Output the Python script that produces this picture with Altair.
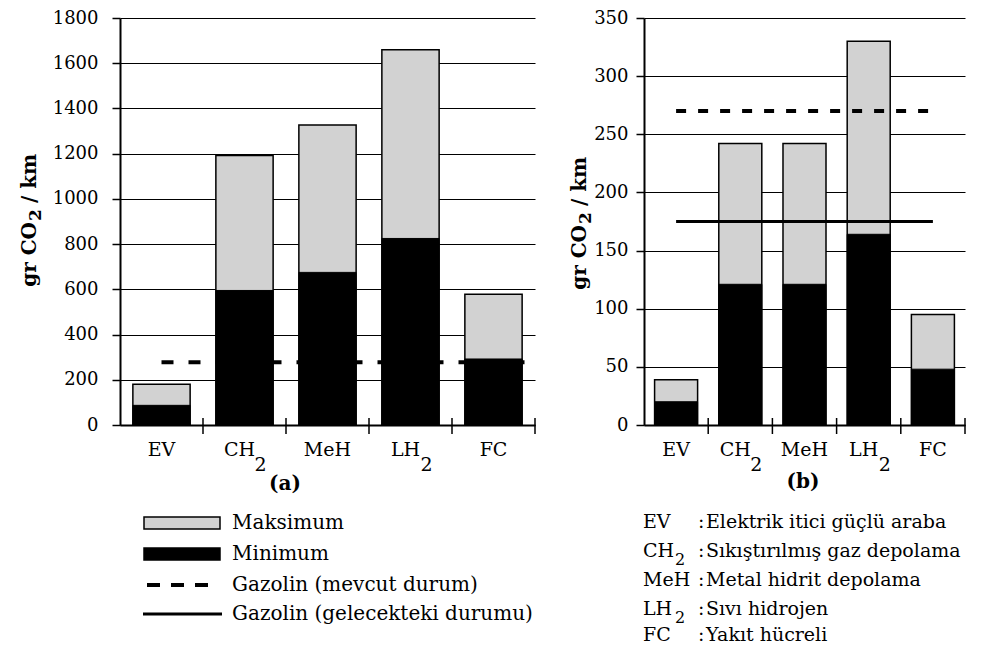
import altair as alt
import pandas as pd

# ---------------- data ----------------
categories = ["EV", "CH2", "MeH", "LH2", "FC"]
label_base = ["EV", "CH", "MeH", "LH", "FC"]
label_sub = ["", "2", "", "2", ""]

left_max = [180, 1192, 1327, 1660, 578]
left_min = [87, 595, 675, 825, 292]
left_gas_now = 278
left_ticks = [0, 200, 400, 600, 800, 1000, 1200, 1400, 1600, 1800]

right_max = [39, 242, 242, 330, 95]
right_min = [20, 121, 121, 164, 48]
right_gas_now = 270
right_gas_future = 175
right_ticks = [0, 50, 100, 150, 200, 250, 300, 350]

legend_left = ["Maksimum", "Minimum", "Gazolin (mevcut durum)",
               "Gazolin (gelecekteki durumu)"]
legend_right_abbr = ["EV", "CH", "MeH", "LH", "FC"]
legend_right_sub = ["", "2", "", "2", ""]
legend_right_desc = ["Elektrik itici güçlü araba", "Sıkıştırılmış gaz depolama",
                     "Metal hidrit depolama", "Sıvı hidrojen", "Yakıt hücreli"]
panel_labels = ["(a)", "(b)"]
y_title = ["gr CO", "2", "/ km"]

SERIF = "DejaVu Serif"
STIPPLE = "#d2d2d2"
ONE = pd.DataFrame({"a": [0]})


def txt(s, x, y, size=20, align="left", weight="normal", angle=0, dx=0, dy=0):
    return alt.Chart(ONE).mark_text(
        text=s, font=SERIF, fontSize=size, align=align, baseline="middle",
        fontWeight=weight, angle=angle, dx=dx, dy=dy, color="black"
    ).encode(x=alt.value(x), y=alt.value(y))


def rect(x1, x2, y1, y2, fill, sw=1.5):
    return alt.Chart(ONE).mark_rect(fill=fill, stroke="black", strokeWidth=sw).encode(
        x=alt.value(x1), x2=alt.value(x2), y=alt.value(y1), y2=alt.value(y2))


def hline(x1, x2, y, width, dash=None):
    kw = dict(color="black", strokeWidth=width)
    if dash:
        kw["strokeDash"] = dash
    return alt.Chart(ONE).mark_rule(**kw).encode(
        x=alt.value(x1), x2=alt.value(x2), y=alt.value(y))


def make_panel(vmax, vmin, ymax, yticks, W, H, bar_frac, label_pad, lines,
               caption, cap_x, cap_y, title_x, title_y, sub_dx, extra):
    df = pd.DataFrame({"cat": categories, "base": label_base, "sub": label_sub,
                       "vmax": vmax, "vmin": vmin})
    xscale = alt.Scale(domain=categories, paddingInner=0, paddingOuter=0)
    xaxis = alt.Axis(title=None, labels=False, ticks=False, grid=False,
                     domainColor="black", domainWidth=2)
    yscale = alt.Scale(domain=[0, ymax], nice=False)
    yaxis = alt.Axis(title=None, values=yticks, format="d", grid=True,
                     gridColor="black", gridWidth=1, gridOpacity=1,
                     tickColor="black", tickSize=8, tickWidth=1.5,
                     domainColor="black", domainWidth=2,
                     labelFont=SERIF, labelFontSize=18, labelColor="black",
                     labelPadding=label_pad)

    def X(**kw):
        return alt.X("cat:N", scale=xscale, axis=xaxis, **kw)

    def Y(f):
        return alt.Y(f, scale=yscale, axis=yaxis)

    base = alt.Chart(df)
    layers = [
        base.mark_bar(fill=STIPPLE, stroke="black", strokeWidth=1.5,
                      width=alt.RelativeBandSize(bar_frac)).encode(x=X(), y=Y("vmax:Q")),
        base.mark_bar(fill="black", stroke="black", strokeWidth=1,
                      width=alt.RelativeBandSize(bar_frac)).encode(x=X(), y=Y("vmin:Q")),
    ]
    for value, start, end, width, dash in lines:
        ldf = pd.DataFrame({"cat": [start], "cat_end": [end], "value": [value]})
        kw = dict(color="black", strokeWidth=width)
        if dash:
            kw["strokeDash"] = dash
        enc = dict(x=X(), y=Y("value:Q"))
        if end is None:
            enc["x2"] = alt.value(W)
        else:
            enc["x2"] = alt.X2("cat_end:N")
        layers.append(alt.Chart(ldf).mark_rule(**kw).encode(**enc))
    # x ticks between bands
    layers.append(base.mark_rule(color="black", strokeWidth=1.5).encode(
        x=X(bandPosition=1), y=alt.value(H - 7), y2=alt.value(H + 9)))
    # x labels (with subscripts)
    layers.append(base.transform_filter("datum.sub == ''").mark_text(
        font=SERIF, fontSize=19, baseline="middle", align="center", color="black"
    ).encode(x=X(), y=alt.value(H + 25), text="base:N"))
    layers.append(base.transform_filter("datum.sub != ''").mark_text(
        font=SERIF, fontSize=19, baseline="middle", align="center", dx=-5, color="black"
    ).encode(x=X(), y=alt.value(H + 25), text="base:N"))
    layers.append(base.transform_filter("datum.sub != ''").mark_text(
        font=SERIF, fontSize=19, baseline="middle", align="left", dx=sub_dx, color="black"
    ).encode(x=X(), y=alt.value(H + 40), text="sub:N"))
    # caption
    layers.append(txt(caption, cap_x, cap_y, size=20, align="center", weight="bold"))
    # y title
    layers.append(txt(y_title[0], title_x, title_y, size=20, align="right",
                      weight="bold", angle=270))
    layers.append(txt(y_title[1], title_x, title_y, size=17, align="left",
                      weight="bold", angle=270, dx=1, dy=6))
    layers.append(txt(y_title[2], title_x, title_y, size=20, align="left",
                      weight="bold", angle=270, dx=19))
    layers += extra
    return alt.layer(*layers).properties(width=W, height=H)


LW, RW, H = 415, 321, 407

# left legend (relative to left plot origin)
left_rows = [505, 536, 567, 596]
left_extra = [
    rect(24, 100, left_rows[0] - 6, left_rows[0] + 6, STIPPLE),
    rect(24, 100, left_rows[1] - 6, left_rows[1] + 6, "black"),
    hline(27, 89, left_rows[2], 4, [13, 11]),
    hline(23, 102, left_rows[3], 3),
] + [txt(s, 112, y) for s, y in zip(legend_left, left_rows)]

# right legend (relative to right plot origin)
right_rows = [504, 533, 562, 591, 617]
right_extra = []
for abbr, sub, desc, y in zip(legend_right_abbr, legend_right_sub,
                              legend_right_desc, right_rows):
    right_extra.append(txt(abbr, -1, y, size=19))
    if sub:
        right_extra.append(txt(sub, 31, y + 9, size=16))
    right_extra.append(txt(":", 54, y, size=19))
    right_extra.append(txt(desc, 62, y, size=19))

left = make_panel(left_max, left_min, 1800, left_ticks, LW, H, 0.69, 14,
                  [(left_gas_now, "EV", None, 4, [12, 15])],
                  panel_labels[0], 165, 466, -90, 204, 10, left_extra)
right = make_panel(right_max, right_min, 350, right_ticks, RW, H, 0.67, 8,
                   [(right_gas_now, "EV", "FC", 4, [10, 12]),
                    (right_gas_future, "EV", "FC", 3, None)],
                   panel_labels[1], 159, 464, -64, 207, 10, right_extra)

chart = alt.hconcat(left, right, spacing=109, bounds="flush").properties(
    padding={"left": 12, "top": 1, "right": 2, "bottom": 0}
).configure_view(stroke=None)

chart.save("out.html", embed_options={"renderer": "svg", "actions": False})
